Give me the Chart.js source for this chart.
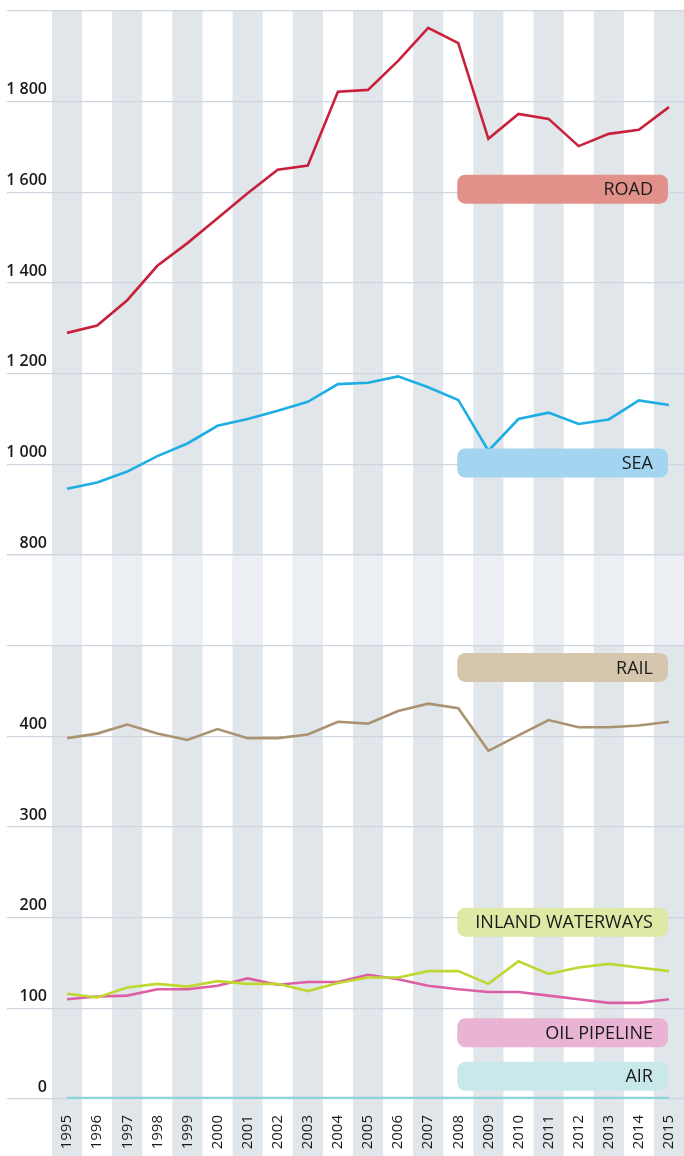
<!DOCTYPE html>
<html>
<head>
<meta charset="utf-8">
<script src="https://cdn.jsdelivr.net/npm/chart.js@4/dist/chart.umd.min.js"></script>
<style>
  html, body { margin: 0; padding: 0; background: #fff; }
  #wrap { width: 684px; height: 1156px; }
</style>
</head>
<body>
<div id="wrap"><canvas id="chart" width="684" height="1156"></canvas></div>
<script>
// years on the x axis
var years = ['1995', '1996', '1997', '1998', '1999', '2000', '2001', '2002', '2003', '2004',
             '2005', '2006', '2007', '2008', '2009', '2010', '2011', '2012', '2013', '2014', '2015'];

// upper panel series (800 - 2000)
var road = [1290, 1306, 1362, 1438, 1488, 1543, 1598, 1650, 1659, 1822,
            1826, 1890, 1963, 1929, 1718, 1773, 1762, 1702, 1729, 1738, 1788];
var sea = [946, 960, 984, 1018, 1046, 1085, 1100, 1118, 1138, 1177,
           1180, 1194, 1170, 1142, 1030, 1100, 1114, 1089, 1099, 1141, 1131];

// lower panel series (0 - 500)
var rail = [398, 403, 413, 403, 396, 408, 398, 398, 402, 416,
            414, 428, 436, 431, 384, 401, 418, 410, 410, 412, 416];
var inlandWaterways = [116, 112, 123, 127, 124, 130, 127, 127, 119, 128,
                       134, 134, 141, 141, 127, 152, 138, 145, 149, 145, 141];
var oilPipeline = [110, 113, 114, 121, 121, 125, 133, 126, 129, 129,
                   137, 132, 125, 121, 118, 118, 114, 110, 106, 106, 110];
var air = [1, 1, 1, 1, 1, 1, 1, 1, 1, 1, 1, 1, 1, 1, 1, 1, 1, 1, 1, 1, 1];

// tick labels
var highTickValues = [800, 1000, 1200, 1400, 1600, 1800];
var highTickLabels = ['800', '1 000', '1 200', '1 400', '1 600', '1 800'];
var lowTickValues = [0, 100, 200, 300, 400];
var lowTickLabels = ['0', '100', '200', '300', '400'];

var seriesNames = ['ROAD', 'SEA', 'RAIL', 'INLAND WATERWAYS', 'OIL PIPELINE', 'AIR'];

// tag boxes: which axis and value they sit at
var tagAnchors = [
    { axis: 'yHigh', value: 1607 },
    { axis: 'yHigh', value: 1003 },
    { axis: 'yLow', value: 476 },
    { axis: 'yLow', value: 195 },
    { axis: 'yLow', value: 73 },
    { axis: 'yLow', value: 25 }
];

var lineColors = ['#c9203c', '#1eaee4', '#aa9371', '#bfd730', '#dc5fa6', '#8dd4dc'];
var tagColors = ['#e2918a', '#a3d4f0', '#d4c7ad', '#dde9a5', '#e9b3d3', '#c9e8ea'];

var GRID = '#cdd6de';
var BAND = '#e1e6eb';
var BAND_LIGHT = '#ebeff3';

function tickCallback(values, labels) {
    return function (value) {
        var i = values.indexOf(value);
        return i >= 0 ? labels[i] : '';
    };
}

function makeSet(i, data, axis) {
    return {
        label: seriesNames[i],
        data: data,
        yAxisID: axis,
        borderColor: lineColors[i],
        borderWidth: 2.6,
        pointRadius: 0,
        tension: 0,
        fill: false
    };
}

var bandsPlugin = {
    id: 'bands',
    beforeDraw: function (chart) {
        var ctx = chart.ctx;
        var x = chart.scales.x;
        var low = chart.scales.yLow;
        var area = chart.chartArea;
        var gapTop = low.getPixelForValue(600);
        var gapBottom = low.getPixelForValue(500);
        ctx.save();
        ctx.fillStyle = '#fff';
        ctx.fillRect(0, 0, chart.width, chart.height);
        var w = (area.right - area.left) / years.length;
        for (var i = 0; i < years.length; i += 2) {
            var cx = x.getPixelForValue(i);
            ctx.fillStyle = BAND;
            ctx.fillRect(cx - w / 2, area.top, w, chart.height - area.top);
            ctx.fillStyle = BAND_LIGHT;
            ctx.fillRect(cx - w / 2, gapTop, w, gapBottom - gapTop);
        }
        ctx.restore();
    }
};

var tagsPlugin = {
    id: 'tags',
    afterDatasetsDraw: function (chart) {
        var ctx = chart.ctx;
        var x = chart.scales.x;
        var left = x.getPixelForValue(years.indexOf('2008')) - 1;
        var right = x.getPixelForValue(years.indexOf('2015')) - 1;
        var h = 29, r = 8;
        ctx.save();
        ctx.font = '18px "Open Sans", sans-serif';
        ctx.textAlign = 'right';
        ctx.textBaseline = 'middle';
        tagAnchors.forEach(function (t, i) {
            var cy = chart.scales[t.axis].getPixelForValue(t.value);
            ctx.fillStyle = tagColors[i];
            ctx.beginPath();
            ctx.roundRect(left, cy - h / 2, right - left, h, r);
            ctx.fill();
            ctx.fillStyle = '#1a1a1a';
            ctx.fillText(seriesNames[i], right - 15, cy + 1);
        });
        ctx.restore();
    }
};

var yTickFont = { family: '"Open Sans", sans-serif', size: 16, weight: '600' };

new Chart(document.getElementById('chart'), {
    type: 'line',
    data: {
        labels: years,
        datasets: [
            makeSet(0, road, 'yHigh'),
            makeSet(1, sea, 'yHigh'),
            makeSet(2, rail, 'yLow'),
            makeSet(3, inlandWaterways, 'yLow'),
            makeSet(4, oilPipeline, 'yLow'),
            makeSet(5, air, 'yLow')
        ]
    },
    options: {
        responsive: false,
        animation: false,
        devicePixelRatio: 1,
        layout: { padding: { top: 11, left: 0, right: 0, bottom: 0 } },
        plugins: {
            legend: { display: false },
            tooltip: { enabled: false }
        },
        scales: {
            x: {
                offset: true,
                grid: { display: false },
                border: { display: false },
                ticks: {
                    autoSkip: false,
                    minRotation: 90,
                    maxRotation: 90,
                    padding: 8,
                    color: '#1a1a1a',
                    font: { family: '"Open Sans", sans-serif', size: 15 }
                },
                afterFit: function (scale) {
                    scale.height = 57;
                    scale.paddingLeft = 0;
                    scale.paddingRight = 0;
                }
            },
            yLow: {
                type: 'linear',
                position: 'left',
                stack: 'y',
                stackWeight: 6,
                min: 0,
                max: 600,
                grid: { color: GRID, lineWidth: 1.2, drawTicks: true, tickLength: 45, tickColor: GRID },
                border: { display: false },
                ticks: {
                    stepSize: 100,
                    padding: -40,
                    labelOffset: -12,
                    color: '#1a1a1a',
                    font: yTickFont,
                    callback: tickCallback(lowTickValues, lowTickLabels)
                },
                afterFit: function (scale) { scale.width = 52; }
            },
            yHigh: {
                type: 'linear',
                position: 'left',
                stack: 'y',
                stackWeight: 6,
                min: 800,
                max: 2000,
                grid: { color: GRID, lineWidth: 1.2, drawTicks: true, tickLength: 45, tickColor: GRID },
                border: { display: false },
                ticks: {
                    stepSize: 200,
                    padding: -40,
                    labelOffset: -12,
                    color: '#1a1a1a',
                    font: yTickFont,
                    callback: tickCallback(highTickValues, highTickLabels)
                },
                afterFit: function (scale) { scale.width = 52; }
            }
        }
    },
    plugins: [bandsPlugin, tagsPlugin]
});
</script>
</body>
</html>
